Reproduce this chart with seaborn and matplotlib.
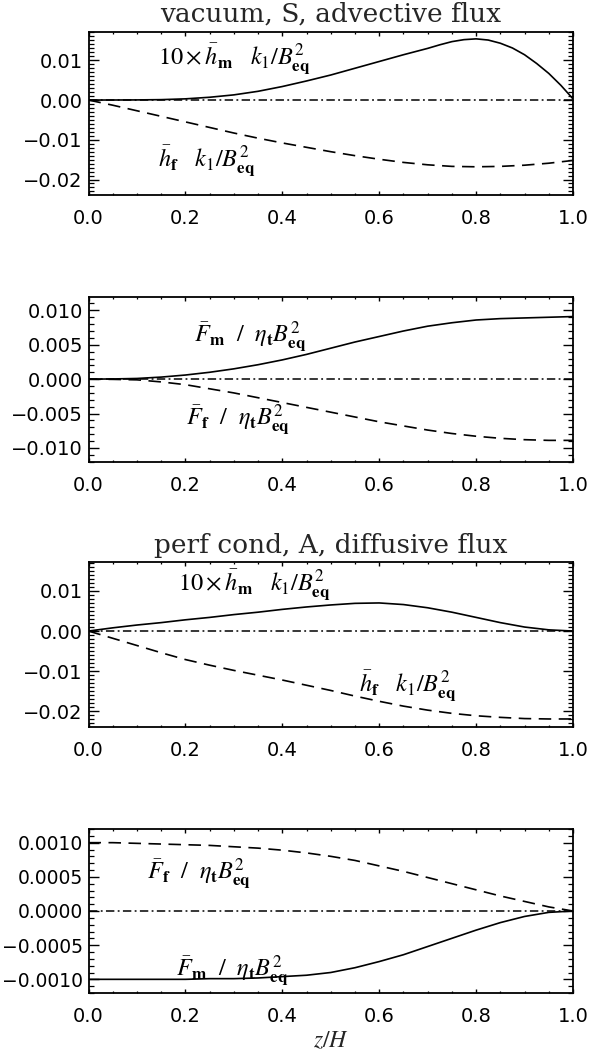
import numpy as np
import pandas as pd
import matplotlib
matplotlib.use("Agg")
import matplotlib.pyplot as plt
from matplotlib.ticker import MultipleLocator, FuncFormatter
import seaborn as sns

# height coordinate z/H
z = [0.00, 0.05, 0.10, 0.15, 0.20, 0.25, 0.30, 0.35, 0.40, 0.45, 0.50,
     0.55, 0.60, 0.65, 0.70, 0.75, 0.80, 0.85, 0.90, 0.95, 1.00]
# finer sampling across the sharp maximum near the top
z_peak = [0.00, 0.05, 0.10, 0.15, 0.20, 0.25, 0.30, 0.35, 0.40, 0.45, 0.50,
          0.55, 0.60, 0.65, 0.70, 0.725, 0.75, 0.775, 0.80, 0.825, 0.85, 0.875,
          0.90, 0.925, 0.95, 0.975, 1.00]

# vacuum, S, advective flux: magnetic helicities
vac_hm = [0.0, 0.00001, 0.00003, 0.0001, 0.0003, 0.0007, 0.0013, 0.0022, 0.0034,
          0.0048, 0.0063, 0.0080, 0.0097, 0.0114, 0.0130, 0.0139, 0.0147, 0.0152,
          0.0154, 0.0151, 0.0143, 0.0131, 0.0114, 0.0092, 0.0067, 0.0037, 0.0003]
vac_hf = [0.0, -0.0013, -0.0027, -0.0041, -0.0055, -0.0069, -0.0083, -0.0096, -0.0108,
          -0.0119, -0.0130, -0.0140, -0.0149, -0.0157, -0.0163, -0.0167, -0.0168,
          -0.0167, -0.0164, -0.0159, -0.0152]
# vacuum, S, advective flux: helicity fluxes
vac_Fm = [0.0, 0.00003, 0.0001, 0.0003, 0.0006, 0.0010, 0.0015, 0.0021, 0.0028,
          0.0036, 0.0045, 0.0054, 0.0062, 0.0070, 0.0077, 0.0082, 0.0086, 0.0088,
          0.0089, 0.0090, 0.0091]
vac_Ff = [0.0, -0.00003, -0.0001, -0.0004, -0.0008, -0.0014, -0.0020, -0.0027, -0.0034,
          -0.0041, -0.0048, -0.0055, -0.0062, -0.0068, -0.0074, -0.0079, -0.0083,
          -0.0086, -0.0088, -0.0089, -0.0089]

# perf cond, A, diffusive flux: magnetic helicities
pc_hm = [0.0, 0.0008, 0.0015, 0.0021, 0.0028, 0.0034, 0.0041, 0.0047, 0.0054, 0.0060,
         0.0065, 0.0069, 0.0070, 0.0066, 0.0058, 0.0047, 0.0034, 0.0021, 0.0010,
         0.0003, 0.0000]
pc_hf = [0.0, -0.0018, -0.0036, -0.0054, -0.0071, -0.0085, -0.0098, -0.0110, -0.0122,
         -0.0135, -0.0148, -0.0162, -0.0175, -0.0187, -0.0197, -0.0205, -0.0211,
         -0.0215, -0.0218, -0.0219, -0.0219]
# perf cond, A, diffusive flux: helicity fluxes
pc_Fm = [-0.0010, -0.0010, -0.0010, -0.0010, -0.0010, -0.00099, -0.00099, -0.00098,
         -0.00096, -0.00094, -0.00090, -0.00083, -0.00074, -0.00064, -0.00052,
         -0.00040, -0.00028, -0.00017, -0.00008, -0.00002, 0.0]
pc_Ff = [0.0010, 0.0010, 0.00099, 0.00098, 0.00097, 0.00096, 0.00094, 0.00092, 0.00089,
         0.00085, 0.00080, 0.00074, 0.00066, 0.00058, 0.00049, 0.00040, 0.00031,
         0.00022, 0.00014, 0.00006, 0.0]

titles = ["vacuum, S, advective flux", "perf cond, A, diffusive flux"]

lab_h_m = r"$10\times\bar{h}_{\mathbf{m}}\ \ \ k_1/B^2_{\mathbf{eq}}$"
lab_h_f = r"$\bar{h}_{\mathbf{f}}\ \ \ k_1/B^2_{\mathbf{eq}}$"
lab_F_m = r"$\bar{F}_{\mathbf{m}}\ \ /\ \ \eta_{\mathbf{t}}B^2_{\mathbf{eq}}$"
lab_F_f = r"$\bar{F}_{\mathbf{f}}\ \ /\ \ \eta_{\mathbf{t}}B^2_{\mathbf{eq}}$"

sns.set_style("ticks")
plt.rcParams.update({
    "font.family": ["DejaVu Sans"],
    "mathtext.fontset": "stix",
    "axes.linewidth": 1.3,
    "xtick.direction": "in",
    "ytick.direction": "in",
    "xtick.color": "black",
    "ytick.color": "black",
    "axes.edgecolor": "black",
})


def minus_fmt(decimals):
    def fmt(v, pos):
        s = f"{v:.{decimals}f}"
        if s.startswith("-"):
            s = "\u2212" + s[1:]
        if s.replace("\u2212", "").strip("0.") == "":
            s = s.replace("\u2212", "")
        return s
    return FuncFormatter(fmt)


W, H = 603, 1053
fig = plt.figure(figsize=(W / 100, H / 100), dpi=100)
fig.patch.set_facecolor("white")

left = 88.5 / W
width = 484.5 / W
boxes = [(31.7, 195.0), (297.3, 461.7), (562.0, 727.0), (829.0, 993.0)]

panels = [
    dict(zs=z_peak, solid=vac_hm, dashed=vac_hf, ylim=(-0.0239, 0.0172), major=0.01,
         minor=0.001, dec=2, ysize=14,
         labels=[(lab_h_m, 0.143, 0.00905), (lab_h_f, 0.143, -0.01658)]),
    dict(zs=z, solid=vac_Fm, dashed=vac_Ff, ylim=(-0.012, 0.0119), major=0.005,
         minor=0.001, dec=3, ysize=14,
         labels=[(lab_F_m, 0.217, 0.00547), (lab_F_f, 0.201, -0.00664)]),
    dict(zs=z, solid=pc_hm, dashed=pc_hf, ylim=(-0.0239, 0.0172), major=0.01,
         minor=0.001, dec=2, ysize=14,
         labels=[(lab_h_m, 0.185, 0.0102), (lab_h_f, 0.558, -0.0151)]),
    dict(zs=z, solid=pc_Fm, dashed=pc_Ff, ylim=(-0.0012, 0.0012), major=0.0005,
         minor=0.0001, dec=4, ysize=13.5,
         labels=[(lab_F_f, 0.121, 0.00048), (lab_F_m, 0.181, -0.00094)]),
]

for (top, bot), p in zip(boxes, panels):
    ax = fig.add_axes([left, 1 - bot / H, width, (bot - top) / H])
    df = pd.DataFrame({
        "z": list(p["zs"]) + list(z),
        "value": list(p["solid"]) + list(p["dashed"]),
        "kind": ["solid"] * len(p["zs"]) + ["dashed"] * len(z),
    })
    sns.lineplot(data=df, x="z", y="value", style="kind",
                 dashes={"solid": "", "dashed": (7.5, 4.5)},
                 color="black", linewidth=1.2, legend=False, ax=ax,
                 estimator=None, sort=False)
    ax.axhline(0.0, color="black", linewidth=1.1, dashes=(5.5, 2.2, 1.2, 2.2))

    ax.set_xlim(0.0, 1.0)
    ax.set_ylim(*p["ylim"])
    ax.xaxis.set_major_locator(MultipleLocator(0.2))
    ax.xaxis.set_minor_locator(MultipleLocator(0.05))
    ax.xaxis.set_major_formatter(minus_fmt(1))
    ax.yaxis.set_major_locator(MultipleLocator(p["major"]))
    ax.yaxis.set_minor_locator(MultipleLocator(p["minor"]))
    ax.yaxis.set_major_formatter(minus_fmt(p["dec"]))
    ax.tick_params(axis="x", which="major", length=2.8, width=1.0, top=True,
                   bottom=True, pad=10, labelsize=14)
    ax.tick_params(axis="x", which="minor", length=1.7, width=0.9, top=True, bottom=True)
    ax.tick_params(axis="y", which="major", length=7.2, width=1.0, left=True,
                   right=True, pad=4, labelsize=p["ysize"])
    ax.tick_params(axis="y", which="minor", length=3.8, width=0.9, left=True, right=True)
    ax.set_xlabel("")
    ax.set_ylabel("")
    for txt, x0, y0 in p["labels"]:
        ax.text(x0, y0, txt, fontsize=17.5, ha="left", va="baseline", color="black")

fig.text(330.5 / W, 1 - 14 / H, titles[0], family="DejaVu Serif", fontsize=19,
         ha="center", va="center")
fig.text(330.5 / W, 1 - 545 / H, titles[1], family="DejaVu Serif", fontsize=19,
         ha="center", va="center")
fig.text(330.5 / W, 1 - 1040 / H, r"$z/H$", fontsize=17, ha="center", va="center")

fig.savefig("out.png", dpi=100, facecolor="white")
